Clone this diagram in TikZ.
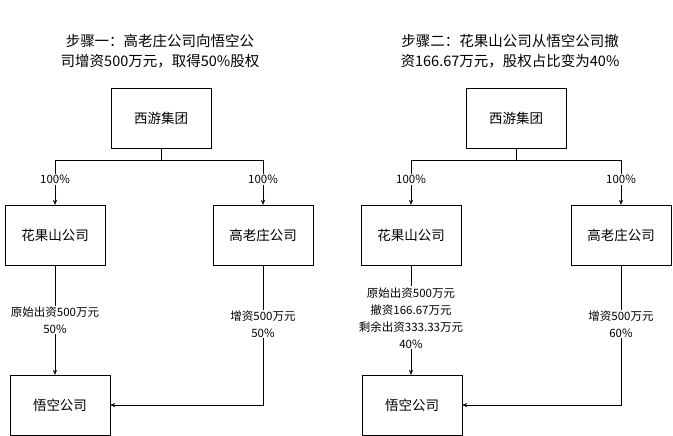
\documentclass[tikz,border=0pt]{standalone}
\usepackage{fontspec}
\setmainfont{Noto Sans CJK SC}
\usetikzlibrary{arrows.meta, positioning}

\begin{document}
\begin{tikzpicture}[x=1pt, y=-1pt, every path/.style={thin},
  box/.style={draw=black, minimum width=100pt, minimum height=60pt, font=\fontsize{13.5}{16}\selectfont},
  lbl/.style={fill=white, inner sep=1pt, font=\fontsize{11.5}{17}\selectfont, align=center},
  ttl/.style={font=\fontsize{14.5}{20}\selectfont, align=center},
  arr/.style={-{Stealth[length=5pt, width=4pt]}}]
\useasboundingbox (0,0) rectangle (673,436);

% --- Step 1 ---
\node[ttl] (t1) at (160,51) {步骤一：高老庄公司向悟空公\\司增资500万元，取得50\%股权};
\node[box] (g1) at (161,118) {西游集团};
\node[box] (h1) at (55,235) {花果山公司};
\node[box] (k1) at (263,235) {高老庄公司};
\node[box] (w1) at (60,405) {悟空公司};
\coordinate (j1) at (161,160);
\draw (g1.south) -- (j1);
\draw[arr] (j1) -| node[lbl, pos=0.72] {100\%} (h1.north);
\draw[arr] (j1) -| node[lbl, pos=0.72] {100\%} (k1.north);
\draw[arr] (h1.south) -- node[lbl, pos=0.5] {原始出资500万元\\50\%} (h1.south |- w1.north);
\draw[arr] (k1.south) |- node[lbl, pos=0.21] {增资500万元\\50\%} (w1.east);

% --- Step 2 ---
\node[ttl] (t2) at (510,51) {步骤二：花果山公司从悟空公司撤\\资166.67万元，股权占比变为40\%};
\node[box] (g2) at (516,118) {西游集团};
\node[box] (h2) at (411,235) {花果山公司};
\node[box] (k2) at (621,235) {高老庄公司};
\node[box] (w2) at (412,405) {悟空公司};
\coordinate (j2) at (516,160);
\draw (g2.south) -- (j2);
\draw[arr] (j2) -| node[lbl, pos=0.72] {100\%} (h2.north);
\draw[arr] (j2) -| node[lbl, pos=0.72] {100\%} (k2.north);
\draw[arr] (h2.south) -- node[lbl, pos=0.48] {原始出资500万元\\撤资166.67万元\\剩余出资333.33万元\\40\%} (h2.south |- w2.north);
\draw[arr] (k2.south) |- node[lbl, pos=0.21] {增资500万元\\60\%} (w2.east);
\end{tikzpicture}
\end{document}
